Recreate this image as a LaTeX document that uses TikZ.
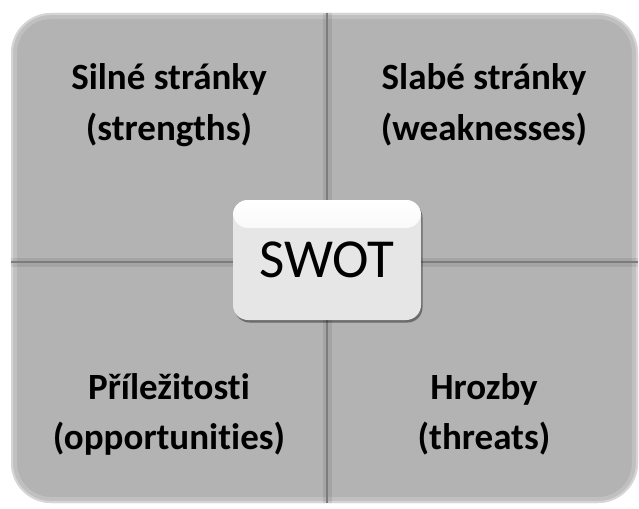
\documentclass[tikz,border=0pt]{standalone}
\usepackage{fontspec}
\setmainfont{Carlito}[Ligatures=NoCommon]
\usetikzlibrary{shadows}

\definecolor{quadgray}{HTML}{B3B3B3}
\definecolor{linegray}{HTML}{7C7C7C}
\definecolor{swotfill}{HTML}{E6E6E6}

% quadrant outlines (only the outer corner is rounded)
\newcommand\quadTL{(11,262) -- (11,53) .. controls (11,31) and (29,13) .. (51,13) -- (327,13) -- (327,262) -- cycle}
\newcommand\quadTR{(327,13) -- (598,13) .. controls (620,13) and (638,31) .. (638,53) -- (638,262) -- (327,262) -- cycle}
\newcommand\quadBL{(11,262) -- (327,262) -- (327,503) -- (51,503) .. controls (29,503) and (11,485) .. (11,463) -- cycle}
\newcommand\quadBR{(327,262) -- (638,262) -- (638,463) .. controls (638,485) and (620,503) .. (598,503) -- (327,503) -- cycle}

\begin{document}
\begin{tikzpicture}[x=1pt,y=-1pt,
  quad/.style={fill=quadgray},
  rim/.style={draw=white, rounded corners=40pt},
  divider/.style={draw=linegray, line width=2.2pt},
  dividerglow/.style={draw=black, opacity=.08, line width=9pt},
  lbl/.style={font=\bfseries\fontsize{37}{37}\selectfont, anchor=base, inner sep=0pt},
  swotbox/.style={fill=swotfill, rounded corners=15pt, minimum width=188pt,
    minimum height=120pt, inner sep=0pt, font=\fontsize{55}{55}\selectfont,
    drop shadow={shadow xshift=1.5pt, shadow yshift=-2.5pt, opacity=.4, fill=black},
    path picture={\fill[top color=white, bottom color=swotfill]
      (path picture bounding box.north west) rectangle
      ([yshift=-28pt]path picture bounding box.north east);}}
]
\useasboundingbox[fill=white] (0,0) rectangle (639,508);

% the four quadrants with a soft light rim along the outer edge
\foreach \q in {\quadTL,\quadTR,\quadBL,\quadBR}{
  \fill[quad] \q;
  \begin{scope}
    \clip \q;
    \draw[rim, opacity=.18, line width=12pt] (11,13) rectangle (638,503);
    \draw[rim, opacity=.35, line width=4pt] (11,13) rectangle (638,503);
  \end{scope}
}

% dividers between the quadrants
\draw[dividerglow] (327,13) -- (327,503);
\draw[dividerglow] (11,262) -- (638,262);
\draw[divider] (327,13) -- (327,503);
\draw[divider] (11,262) -- (638,262);

% quadrant labels
\node[lbl] (s1) at (169,90) {Silné stránky};
\node[lbl] (s2) at (169,140) {(strengths)};
\node[lbl] (w1) at (484,90) {Slabé stránky};
\node[lbl] (w2) at (484,140) {(weaknesses)};
\node[lbl] (o1) at (169,399) {Příležitosti};
\node[lbl] (o2) at (169,449) {(opportunities)};
\node[lbl] (t1) at (484,399) {Hrozby};
\node[lbl] (t2) at (484,449) {(threats)};

% central box
\node[swotbox] (swot) at (327,260) {SWOT};
\end{tikzpicture}
\end{document}
